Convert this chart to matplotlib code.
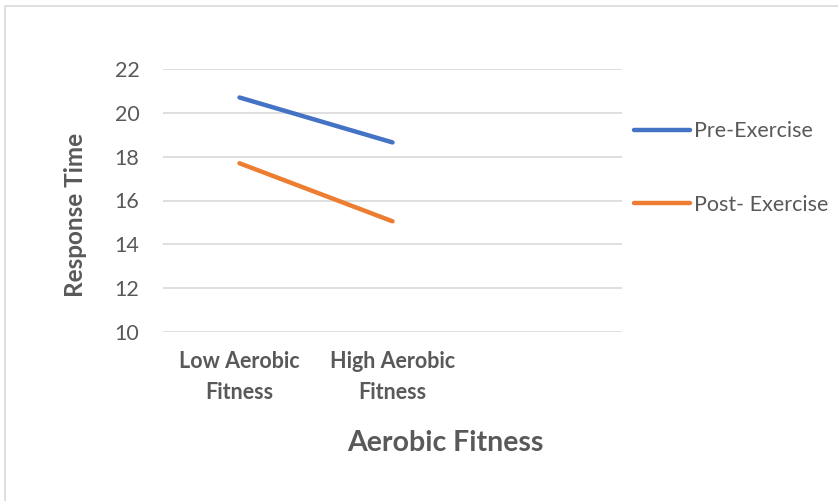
import matplotlib.pyplot as plt
from matplotlib.lines import Line2D

plt.rcParams.update({
    'font.family': ['Lato', 'DejaVu Sans'],
    'font.size': 15,
})

# Data
categories = ["Low Aerobic\nFitness", "High Aerobic\nFitness", ""]
pre_exercise = [20.7, 18.65]
post_exercise = [17.7, 15.05]
yticks = [10, 12, 14, 16, 18, 20, 22]

BLUE = "#4472C4"
ORANGE = "#ED7D31"
GRID = "#D9D9D9"
TEXT = "#595959"

fig = plt.figure(figsize=(8.38, 5.01), dpi=100, facecolor="white")
ax = fig.add_axes([163 / 838, 1 - 332 / 501, 459 / 838, 263 / 501])

x = list(range(len(categories)))
ax.plot(x[:len(pre_exercise)], pre_exercise, color=BLUE, lw=3.2,
        solid_capstyle="round", label="Pre-Exercise")
ax.plot(x[:len(post_exercise)], post_exercise, color=ORANGE, lw=3.2,
        solid_capstyle="round", label="Post- Exercise")

ax.set_xlim(-0.5, len(categories) - 0.5)
ax.set_ylim(10, 22)
ax.set_yticks(yticks)
ax.set_xticks(x)
ax.set_xticklabels(categories, fontweight="bold", color=TEXT, fontsize=15.5,
                   linespacing=1.55)
ax.tick_params(axis="y", length=0, pad=17, colors=TEXT, labelsize=15.5)
ax.tick_params(axis="x", length=0, pad=14)
ax.grid(axis="y", color=GRID, lw=1.2)
ax.set_axisbelow(True)
for s in ax.spines.values():
    s.set_visible(False)

fig.text(75 / 838, 1 - 215 / 501, "Response Time", rotation=90, ha="center",
         va="center", fontsize=17.5, fontweight="bold", color=TEXT)
fig.text(445 / 838, 1 - 443 / 501, "Aerobic Fitness", ha="center",
         va="center", fontsize=20.5, fontweight="bold", color=TEXT)

fig.legend(loc="center left", bbox_to_anchor=(634 / 838, 1 - 168 / 501),
           frameon=False, borderpad=0, borderaxespad=0, handlelength=2.6,
           handletextpad=0.2, labelspacing=2.5, fontsize=15.5,
           labelcolor=TEXT)

# light frame along the left and top edge
fig.add_artist(Line2D([5 / 838, 5 / 838, 1], [0, 1 - 6 / 501, 1 - 6 / 501],
                      color=GRID, lw=1.2, transform=fig.transFigure))

fig.savefig("out.png", dpi=100, facecolor="white")
